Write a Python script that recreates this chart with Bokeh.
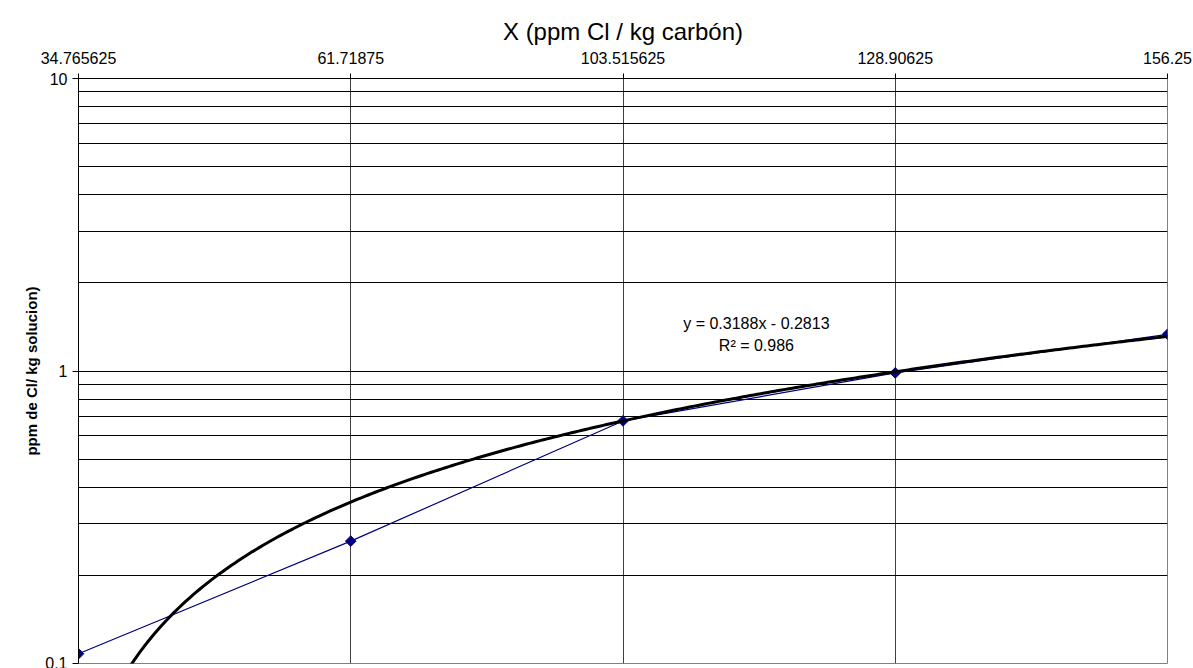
from bokeh.plotting import figure
from bokeh.models import Range1d, FixedTicker, Label, ColumnDataSource
from bokeh.embed import file_html
from bokeh.resources import INLINE
import numpy as np

# Data
categories = ["34.765625", "61.71875", "103.515625", "128.90625", "156.25"]
cat_index = [1, 2, 3, 4, 5]
values = [0.108, 0.262, 0.675, 0.985, 1.335]
trend_slope = 0.3188
trend_intercept = -0.2813
trend_text = "y = 0.3188x - 0.2813"
r2_text = "R\u00b2 = 0.986"
y_major = [0.1, 1, 10]
y_minor = [0.2, 0.3, 0.4, 0.5, 0.6, 0.7, 0.8, 0.9, 2, 3, 4, 5, 6, 7, 8, 9]

FONT = "Liberation Sans"

p = figure(width=1193, height=668, output_backend="svg", toolbar_location=None,
           y_axis_type="log", x_axis_location="above",
           x_range=Range1d(1, 5), y_range=Range1d(0.1, 10),
           min_border_left=78, min_border_right=26, min_border_top=78, min_border_bottom=5)
p.background_fill_color = "white"
p.border_fill_color = "white"
p.outline_line_color = "#808080"
p.outline_line_width = 1

# x axis
p.xaxis.ticker = FixedTicker(ticks=cat_index)
p.xaxis.major_label_overrides = {i: c for i, c in zip(cat_index, categories)}
p.xaxis.axis_label = "X (ppm Cl / kg carbón)"
p.xaxis.axis_label_text_font = FONT
p.xaxis.axis_label_text_font_size = "24px"
p.xaxis.axis_label_text_font_style = "normal"
p.xaxis.axis_label_text_color = "black"
p.xaxis.axis_label_standoff = 4
p.xaxis.major_label_text_font = FONT
p.xaxis.major_label_text_font_size = "16px"
p.xaxis.major_label_text_color = "black"
p.xaxis.major_label_standoff = 10
p.xaxis.major_tick_in = 0
p.xaxis.major_tick_out = 5
p.xaxis.major_tick_line_color = "black"
p.xaxis.minor_tick_line_color = None
p.xaxis.axis_line_color = "black"

# y axis
p.yaxis.ticker = FixedTicker(ticks=y_major, minor_ticks=y_minor)
p.yaxis.major_label_overrides = {0.1: "0.1", 1: "1", 10: "10"}
p.yaxis.axis_label = "ppm de Cl/ kg solucion)"
p.yaxis.axis_label_text_font = FONT
p.yaxis.axis_label_text_font_size = "15px"
p.yaxis.axis_label_text_font_style = "bold"
p.yaxis.axis_label_text_color = "black"
p.yaxis.axis_label_standoff = 2
p.yaxis.major_label_text_font = FONT
p.yaxis.major_label_text_font_size = "16px"
p.yaxis.major_label_text_color = "black"
p.yaxis.major_label_standoff = 5
p.yaxis.major_tick_in = 0
p.yaxis.major_tick_out = 6
p.yaxis.major_tick_line_color = "black"
p.yaxis.minor_tick_line_color = None
p.yaxis.axis_line_color = "black"

# grids
p.xgrid.grid_line_color = "#404040"
p.xgrid.grid_line_width = 1
p.ygrid.grid_line_color = "black"
p.ygrid.grid_line_width = 1
p.ygrid.minor_grid_line_color = "black"
p.ygrid.minor_grid_line_width = 1

# data series
src = ColumnDataSource(dict(x=cat_index, y=values))
p.line("x", "y", source=src, line_color="#000080", line_width=1.2)
p.scatter("x", "y", source=src, marker="square", angle=np.pi / 4, size=7.5,
          fill_color="#000080", line_color="#000080")

# linear trendline (category index as x)
tx = np.linspace(1.15, 5, 300)
ty = trend_slope * tx + trend_intercept
tmask = ty > 0.05
p.line(tx[tmask], ty[tmask], line_color="black", line_width=3)

p.add_layout(Label(x=3.49, y=1.45, text=trend_text, text_font=FONT, text_font_size="16px",
                   text_color="black", text_align="center", text_baseline="middle"))
p.add_layout(Label(x=3.49, y=1.222, text=r2_text, text_font=FONT, text_font_size="16px",
                   text_color="black", text_align="center", text_baseline="middle"))

open("out.html", "w").write(file_html(p, INLINE))
